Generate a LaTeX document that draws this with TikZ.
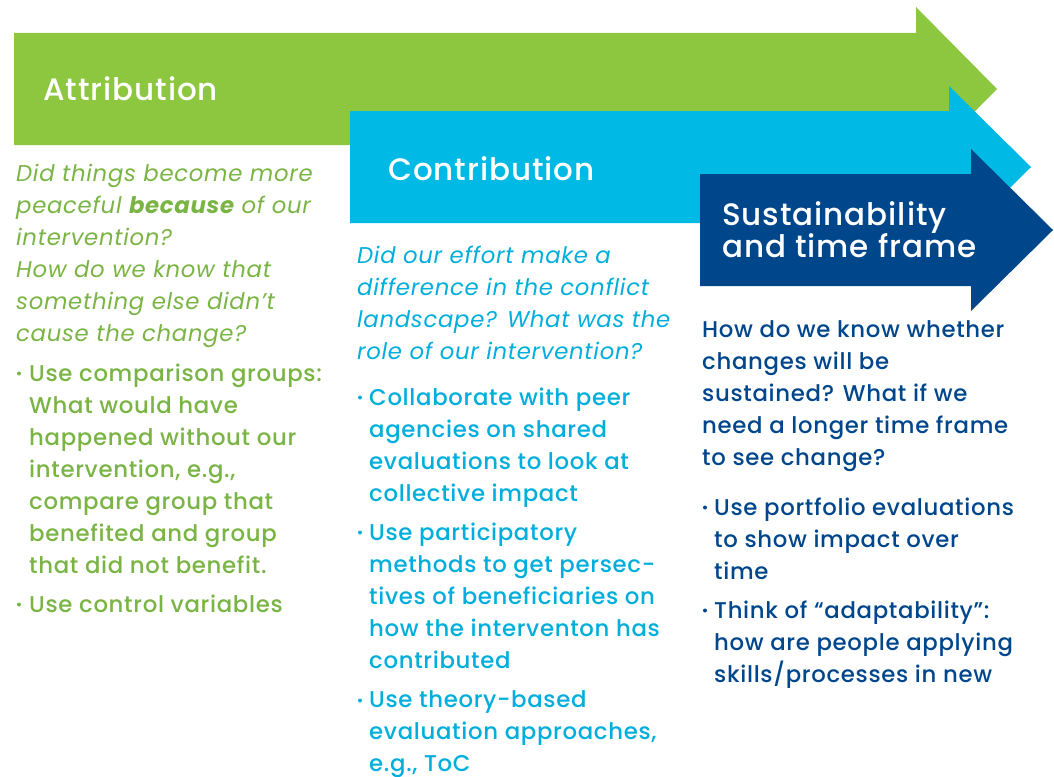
\documentclass[tikz,border=0pt]{standalone}
\usepackage{fontspec}
\setmainfont{Poppins}[UprightFont=* Medium, ItalicFont=* Italic, BoldFont=* SemiBold, BoldItalicFont=* Bold Italic, LetterSpace=3]
\definecolor{gshape}{HTML}{8DC63F}
\definecolor{cshape}{HTML}{00B9E4}
\definecolor{dshape}{HTML}{00468B}
\definecolor{gtext}{HTML}{7AB444}
\definecolor{ctext}{HTML}{00AEDC}
\definecolor{dtext}{HTML}{00468B}
\tikzset{
  title/.style={anchor=base west, inner sep=0pt, text=white, font=\fontsize{31}{32}\selectfont},
  para/.style={anchor=north west, inner sep=0pt, align=left, font=\fontsize{22.8}{32}\selectfont},
  dot/.style={circle, inner sep=0pt, minimum size=4pt},
}
\begin{document}
\begin{tikzpicture}[x=1pt,y=-1pt]
\useasboundingbox (0,0) rectangle (1054,776);
% arrows
\fill[gshape] (14,33) -- (916,33) -- (916,7) -- (997,89) -- (916,171) -- (916,145) -- (14,145) -- cycle;
\fill[cshape] (350,111) -- (949,111) -- (949,86) -- (1031,167) -- (949,248) -- (949,223) -- (350,223) -- cycle;
\fill[dshape] (700,174) -- (971,174) -- (971,149) -- (1053,230) -- (971,311) -- (971,286) -- (700,286) -- cycle;
% titles
\node[title] (t1) at (43,100) {Attribution};
\node[title] (t2) at (388,180) {Contribution};
\node[title] (t3) at (722,225) {Sustainability};
\node[title] (t3b) at (722,257) {and time frame};
% green column
\node[para, text=gtext] (q1) at (16,181-22.4) {\strut\itshape Did things become more\\\itshape peaceful \textbf{because} of our\\\itshape intervention?\\\itshape How do we know that\\\itshape something else didn’t\\\itshape cause the change?};
\node[dot, fill=gtext] (g1d) at (19,381-7.5) {};
\node[para, text=gtext] (g1) at (29,381-22.4) {\strut Use comparison groups:\\What would have\\happened without our\\intervention, e.g.,\\compare group that\\benefited and group\\that did not benefit.};
\node[dot, fill=gtext] (g2d) at (19,612-7.5) {};
\node[para, text=gtext] (g2) at (29,612-22.4) {\strut Use control variables};
% cyan column
\node[para, text=ctext] (q2) at (357,263-22.4) {\strut\itshape Did our effort make a\\\itshape difference in the conflict\\\itshape landscape? What was the\\\itshape role of our intervention?};
\node[dot, fill=ctext] (c1d) at (360,405-7.5) {};
\node[para, text=ctext] (c1) at (369,405-22.4) {\strut Collaborate with peer\\agencies on shared\\evaluations to look at\\collective impact};
\node[dot, fill=ctext] (c2d) at (360,540-7.5) {};
\node[para, text=ctext] (c2) at (369,540-22.4) {\strut Use participatory\\methods to get persec-\\tives of beneficiaries on\\how the interventon has\\contributed};
\node[dot, fill=ctext] (c3d) at (360,708-7.5) {};
\node[para, text=ctext] (c3) at (369,707-22.4) {\strut Use theory-based\\evaluation approaches,\\e.g., ToC};
% dark column
\node[para, text=dtext] (q3) at (702,337-22.4) {\strut How do we know whether\\changes will be\\sustained? What if we\\need a longer time frame\\to see change?};
\node[dot, fill=dtext] (d1d) at (705,515-7.5) {};
\node[para, text=dtext] (d1) at (714,515-22.4) {\strut Use portfolio evaluations\\to show impact over\\time};
\node[dot, fill=dtext] (d2d) at (705,618-7.5) {};
\node[para, text=dtext] (d2) at (714,618-22.4) {\strut Think of “adaptability”:\\how are people applying\\skills/processes in new};
\end{tikzpicture}
\end{document}
